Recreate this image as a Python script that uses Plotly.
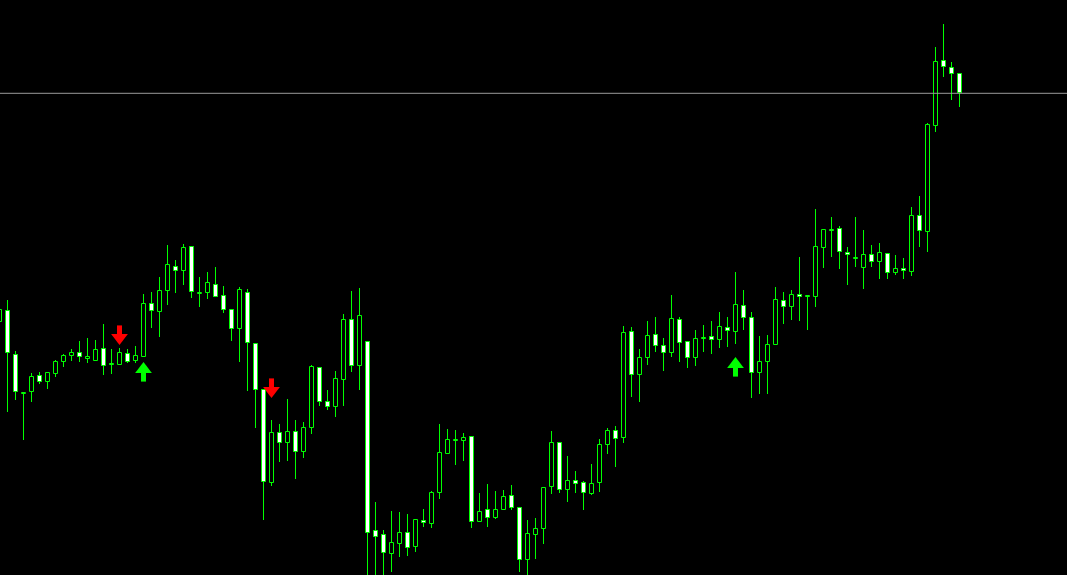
import plotly.graph_objects as go

# Candle index (-1 is the partially visible first bar)
idx = list(range(-1, 120))

opens = [278, 289, 245, 207, 208, 224, 218, 226, 238, 244, 247, 241, 239, 251, 236, 235, 246, 239, 243, 296,
         288, 309, 333, 329, 353, 307, 307, 315, 304, 290, 271, 307, 256, 210, 117, 167, 157, 168, 148, 172,
         232, 198, 193, 220, 280, 234, 258, 69, 65, 46, 56, 67, 53, 79, 76, 107, 146, 160, 159, 163,
         78, 90, 82, 90, 104, 92, 40, 65, 71, 113, 157, 110, 119, 117, 106, 117, 155, 169, 162, 268,
         225, 242, 265, 254, 247, 280, 258, 242, 262, 263, 260, 272, 268, 294, 282, 227, 238, 255, 299, 293,
         305, 304, 303, 352, 370, 371, 347, 342, 332, 345, 338, 346, 327, 331, 328, 384, 368, 474, 539, 532,
         526]
highs = [294, 300, 249, 208, 227, 228, 227, 240, 246, 251, 259, 262, 260, 276, 251, 252, 251, 254, 306, 308,
         323, 355, 340, 356, 353, 323, 328, 333, 314, 290, 313, 311, 257, 210, 180, 176, 201, 180, 178, 235,
         232, 210, 229, 286, 309, 312, 258, 98, 70, 89, 88, 86, 81, 91, 109, 176, 171, 170, 167, 164,
         107, 116, 109, 110, 115, 92, 80, 82, 112, 169, 158, 144, 129, 119, 136, 161, 172, 174, 274, 273,
         251, 279, 283, 262, 305, 283, 259, 270, 275, 279, 288, 283, 328, 310, 288, 264, 265, 313, 308, 310,
         343, 305, 391, 370, 383, 374, 353, 383, 370, 355, 357, 346, 345, 342, 393, 404, 477, 553, 576, 538,
         527]
lows = [272, 188, 200, 160, 198, 216, 211, 223, 233, 239, 238, 237, 239, 225, 226, 235, 237, 237, 243, 272,
        263, 295, 307, 315, 302, 293, 301, 303, 287, 259, 238, 209, 172, 80, 114, 138, 139, 121, 142, 166,
        194, 190, 183, 194, 228, 210, 10, 15, 10, 28, 43, 44, 48, 73, 72, 101, 146, 135, 139, 72,
        78, 73, 81, 90, 90, 28, 20, 41, 56, 106, 107, 98, 107, 90, 105, 108, 146, 133, 157, 203,
        198, 235, 248, 229, 243, 238, 232, 234, 248, 246, 252, 253, 256, 270, 202, 206, 206, 255, 276, 280,
        279, 270, 293, 332, 343, 331, 315, 333, 311, 333, 321, 321, 325, 321, 324, 353, 348, 468, 523, 500,
        493]
closes = [290, 247, 208, 207, 223, 218, 227, 238, 244, 247, 243, 243, 250, 234, 236, 247, 238, 244, 296, 289,
          309, 335, 329, 352, 308, 307, 317, 303, 290, 271, 310, 257, 210, 118, 167, 157, 168, 148, 172, 233,
          198, 193, 221, 280, 234, 284, 67, 63, 47, 57, 67, 52, 80, 77, 107, 147, 160, 160, 162, 78,
          88, 82, 90, 103, 92, 40, 66, 71, 112, 157, 110, 119, 116, 107, 116, 155, 169, 161, 267, 225,
          242, 264, 254, 247, 281, 257, 242, 261, 262, 260, 273, 269, 295, 282, 227, 238, 255, 300, 293, 305,
          303, 304, 353, 370, 370, 348, 345, 342, 345, 338, 347, 327, 331, 329, 384, 369, 475, 538, 533, 526,
          507]

# Horizontal price level line
level = 506.7

# Signal arrows (candle index, price of arrow tip)
sell_idx = [14, 33]
sell_tip = [255, 202]
buy_idx = [17, 91]
buy_tip = [238, 243]

GREEN = "#00ff00"

base, height, fills = [], [], []
wx, wy = [], []
for k, o, h, l, c in zip(idx, opens, highs, lows, closes):
    top, bot = max(o, c), min(o, c)
    hgt = top - bot
    if hgt < 1:
        bot = bot - 0.5
        hgt = 1
    base.append(bot)
    height.append(hgt)
    fills.append("#000000" if c >= o else "#ffffff")
    wx += [k, k, None, k, k, None]
    wy += [h, max(o, c), None, min(o, c), l, None]

fig = go.Figure()
fig.add_trace(go.Scatter(x=wx, y=wy, mode="lines", line=dict(color=GREEN, width=1),
                         hoverinfo="skip", showlegend=False))
fig.add_trace(go.Bar(x=idx, y=height, base=base, width=0.5,
                     marker=dict(color=fills, line=dict(color=GREEN, width=1)),
                     showlegend=False))

# Sell arrows (red, pointing down above bars)
fig.add_trace(go.Scatter(x=sell_idx, y=[t + 14 for t in sell_tip], mode="markers",
                         marker=dict(symbol="line-ns", size=8, line=dict(color="#ff0000", width=5)),
                         showlegend=False, hoverinfo="skip"))
fig.add_trace(go.Scatter(x=sell_idx, y=[t + 7.3 for t in sell_tip], mode="markers",
                         marker=dict(symbol="triangle-down", size=14.5, color="#ff0000", line=dict(width=0)),
                         showlegend=False, hoverinfo="skip"))
# Buy arrows (green, pointing up below bars)
fig.add_trace(go.Scatter(x=buy_idx, y=[t - 14 for t in buy_tip], mode="markers",
                         marker=dict(symbol="line-ns", size=8, line=dict(color="#00ff00", width=5)),
                         showlegend=False, hoverinfo="skip"))
fig.add_trace(go.Scatter(x=buy_idx, y=[t - 7.3 for t in buy_tip], mode="markers",
                         marker=dict(symbol="triangle-up", size=14.5, color="#00ff00", line=dict(width=0)),
                         showlegend=False, hoverinfo="skip"))

fig.add_hline(y=level, line=dict(color="#9a9a9a", width=1))

fig.update_layout(
    width=1067, height=575,
    margin=dict(l=0, r=0, t=0, b=0),
    paper_bgcolor="#000000", plot_bgcolor="#000000",
    bargap=0, showlegend=False,
    xaxis=dict(range=[-0.9375, 132.4375], visible=False, fixedrange=True),
    yaxis=dict(range=[25, 600], visible=False, fixedrange=True),
)

fig.write_html("out.html", config={"displayModeBar": False},
               post_script="document.body.style.margin='0';document.body.style.background='#000';")
